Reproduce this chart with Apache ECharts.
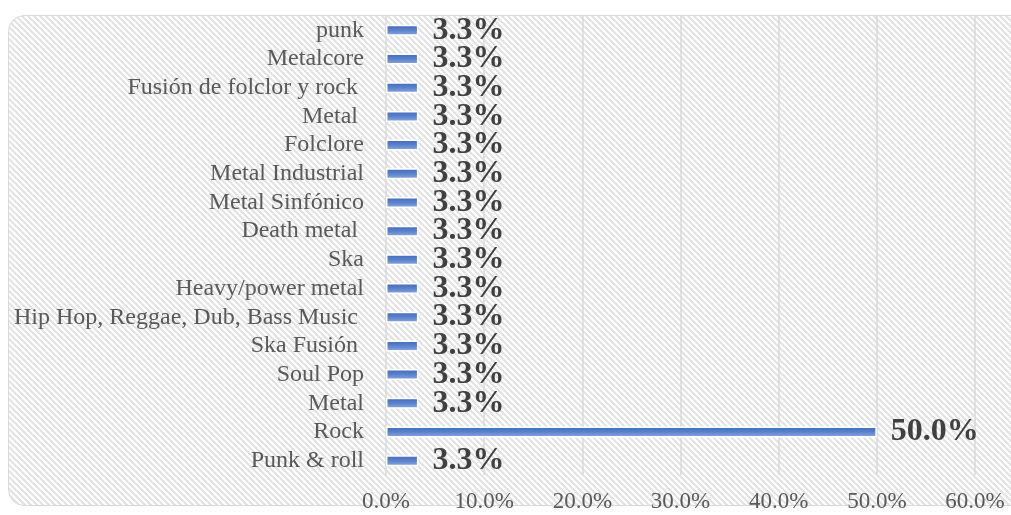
<!DOCTYPE html>
<html>
<head>
<meta charset="utf-8">
<script src="https://cdn.jsdelivr.net/npm/echarts@6/dist/echarts.min.js"></script>
<style>
  html, body { margin: 0; padding: 0; background: #fff; }
  #main { width: 1011px; height: 515px; }
</style>
</head>
<body>
<div id="main"></div>
<script>
// categories from bottom to top
var genres = ['Punk & roll', 'Rock', 'Metal', 'Soul Pop', 'Ska Fusión ',
  'Hip Hop, Reggae, Dub, Bass Music ', 'Heavy/power metal', 'Ska', 'Death metal ',
  'Metal Sinfónico', 'Metal Industrial', 'Folclore', 'Metal ',
  'Fusión de folclor y rock ', 'Metalcore', 'punk'];
var shares = [3.3, 50.0, 3.3, 3.3, 3.3, 3.3, 3.3, 3.3, 3.3, 3.3, 3.3, 3.3, 3.3, 3.3, 3.3, 3.3];
var xTicks = [0, 10, 20, 30, 40, 50, 60];

// diagonal hatch for the background
var hatch = document.createElement('canvas');
hatch.width = 6; hatch.height = 6;
var g = hatch.getContext('2d');
g.fillStyle = '#ffffff';
g.fillRect(0, 0, 6, 6);
g.strokeStyle = '#e2e2e2';
g.lineWidth = 2;
g.beginPath();
g.moveTo(-3, -3); g.lineTo(9, 9);
g.moveTo(-3, 3); g.lineTo(3, 9);
g.moveTo(3, -3); g.lineTo(9, 3);
g.stroke();

var serif = '"Liberation Serif", "Times New Roman", serif';
var chart = echarts.init(document.getElementById('main'));

var option = {
  backgroundColor: '#ffffff',
  animation: false,
  graphic: [{
    type: 'rect',
    z: -10,
    shape: { x: 8.5, y: 15.5, width: 1040, height: 490, r: 16 },
    style: { fill: { image: hatch, repeat: 'repeat' }, stroke: '#d9d9d9', lineWidth: 1 }
  }],
  grid: { left: 386, right: 36, top: 16, bottom: 40, containLabel: false },
  xAxis: {
    type: 'value',
    min: xTicks[0],
    max: xTicks[xTicks.length - 1],
    interval: 10,
    axisLine: { show: false },
    axisTick: { show: false },
    splitLine: { show: true, lineStyle: { color: '#d9d9d9', width: 1.5 } },
    axisLabel: {
      margin: 15,
      color: '#595959',
      fontFamily: serif,
      fontSize: 23,
      formatter: function (v) { return v.toFixed(1) + '%'; }
    }
  },
  yAxis: {
    type: 'category',
    data: genres,
    axisLine: { show: false },
    axisTick: { show: false },
    axisLabel: {
      interval: 0,
      margin: 22,
      color: '#595959',
      fontFamily: serif,
      fontSize: 24
    }
  },
  series: [{
    type: 'bar',
    data: shares,
    barWidth: 11,
    itemStyle: {
      color: new echarts.graphic.LinearGradient(0, 0, 0, 1, [
        { offset: 0, color: '#3e68b9' },
        { offset: 0.5, color: '#5b82cc' },
        { offset: 1, color: '#8fabe0' }
      ]),
      borderColor: '#ffffff',
      borderWidth: 1.5
    },
    label: {
      show: true,
      position: 'right',
      distance: 14,
      color: '#404040',
      fontFamily: serif,
      fontWeight: 'bold',
      fontSize: 32,
      formatter: function (p) { return p.value.toFixed(1) + '%'; }
    }
  }]
};
chart.setOption(option);
</script>
</body>
</html>
